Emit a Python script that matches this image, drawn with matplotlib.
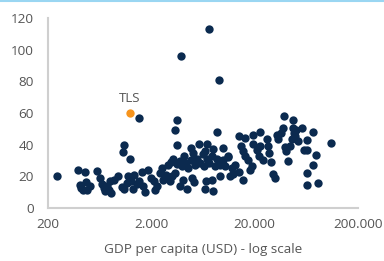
import matplotlib
matplotlib.use("Agg")
import matplotlib.pyplot as plt
from matplotlib.ticker import FixedLocator, FuncFormatter, NullLocator
from matplotlib.lines import Line2D

plt.rcParams['font.family'] = ['Open Sans', 'DejaVu Sans']

# GDP per capita (USD) and value for each country
gdp = [243, 387, 456, 591, 410, 436, 480, 510, 470, 420,
       637, 660, 700, 750, 790, 720, 820, 880, 780, 960,
       1030, 1090, 1154, 1200, 1260, 1320, 1370, 1440, 1530, 1620,
       1650, 1730, 1860, 1980, 2120, 2180, 2280, 2420, 2610, 2800,
       3030, 3200, 3370, 3800, 4020, 4400, 4920, 5180, 6560, 6700,
       7960, 7670, 9200, 11530, 12440, 14200, 15600,
       1100, 1060, 1245, 1530,
       2540, 2920, 3100, 3280, 3520, 3770, 3950, 4150, 4330, 4580,
       4820, 5300, 5600, 5920, 6280, 6490, 6900, 7280, 7670, 8290,
       8700, 9230, 9800, 10300, 11100, 12000, 12900,
       3560, 3370, 3560, 4820, 5850, 6900, 6580, 8580, 7960, 9800,
       11100, 5100,
       14000, 16200, 14700, 15400, 16200, 17100, 17900, 19000, 19300, 19400,
       20900, 22500, 22800, 22300, 24200, 26100, 27100, 27700, 28600, 30300,
       31600, 32900, 34000, 35900, 37800, 38400, 39000, 40000, 42300, 43900,
       45600, 47300, 48000, 50400, 46800, 49200, 52900, 58000, 59800, 63700,
       64600, 63700, 63700, 72800, 73900, 78400, 82600, 109600,
       3870, 7280, 8970]
value = [20.0, 24.0, 22.5, 23.6, 14.8, 11.6, 11.2, 13.7, 16.2, 12.7,
         19.0, 15.4, 12.7, 14.0, 16.9, 10.5, 9.5, 18.0, 11.6, 20.0,
         13.3, 12.0, 15.8, 20.5, 16.9, 12.0, 21.0, 15.4, 16.9, 22.5,
         13.7, 9.9, 23.8, 19.0, 16.9, 11.2, 14.1, 22.1, 17.9, 21.0,
         16.9, 20.0, 22.1, 14.1, 17.9, 12.0, 19.0, 16.2, 12.0, 16.9,
         10.5, 17.9, 20.0, 20.0, 21.7, 22.5, 17.5,
         40.0, 35.2, 31.0, 56.7,
         25.3, 27.4, 28.9, 31.0, 28.0, 29.5, 26.4, 32.7, 28.5, 25.3,
         30.6, 27.4, 31.0, 28.5, 34.4, 26.4, 31.0, 28.5, 32.7, 26.4,
         31.0, 27.4, 30.1, 26.4, 32.3, 25.3, 27.4,
         55.4, 49.1, 40.0, 38.0, 40.5, 40.5, 35.8, 48.1, 37.3, 38.0,
         33.1, 34.8,
         45.3, 44.3, 39.4, 35.8, 32.7, 30.1, 24.2, 26.4, 46.4, 40.7,
         36.9, 47.9, 39.0, 33.1, 30.6, 43.6, 39.0, 34.8, 28.9, 21.7,
         19.0, 46.4, 43.6, 47.4, 50.6, 58.0, 38.6, 35.8, 29.5, 39.4,
         43.6, 55.4, 47.4, 49.1, 50.6, 45.3, 42.2, 50.6, 36.9, 42.8,
         36.5, 22.1, 14.8, 47.9, 27.4, 33.7, 15.8, 41.1,
         96.0, 112.8, 80.8]

# Timor-Leste highlighted
tls_gdp = 1245
tls_value = 59.7

xticks = [200, 2000, 20000, 200000]
yticks = [0, 20, 40, 60, 80, 100, 120]

navy = '#0b2a4f'
orange = '#f7941d'
grey_text = '#555555'

fig = plt.figure(figsize=(3.84, 2.61), dpi=100)
ax = fig.add_axes([0.125, 0.203, 0.807, 0.728])

ax.scatter(gdp, value, s=36, color=navy, linewidths=0, zorder=3)
ax.scatter([tls_gdp], [tls_value], s=36, color=orange, linewidths=0, zorder=4)
ax.annotate('TLS', (tls_gdp, tls_value), xytext=(0, 6), textcoords='offset points',
            ha='center', va='bottom', fontsize=9.5, color=grey_text)

ax.set_xscale('log')
ax.set_xlim(200, 200000)
ax.set_ylim(0, 120)
ax.xaxis.set_major_locator(FixedLocator(xticks))
ax.xaxis.set_minor_locator(NullLocator())
ax.xaxis.set_major_formatter(FuncFormatter(lambda v, p: f"{int(round(v)):,}".replace(",", ".")))
ax.set_yticks(yticks)

for s in ['top', 'right']:
    ax.spines[s].set_visible(False)
for s in ['left', 'bottom']:
    ax.spines[s].set_color('#cfcfcf')
    ax.spines[s].set_linewidth(1.5)

ax.tick_params(axis='both', length=0, labelsize=9.7, colors=grey_text)
ax.tick_params(axis='y', pad=10)
ax.tick_params(axis='x', pad=7)

ax.set_xlabel('GDP per capita (USD) - log scale', fontsize=9.7, color=grey_text, labelpad=9)

# light blue rule at the top
fig.add_artist(Line2D([0, 1], [0.996, 0.996], color='#9ad6f2', linewidth=1.5))

fig.savefig('out.png', dpi=100)
